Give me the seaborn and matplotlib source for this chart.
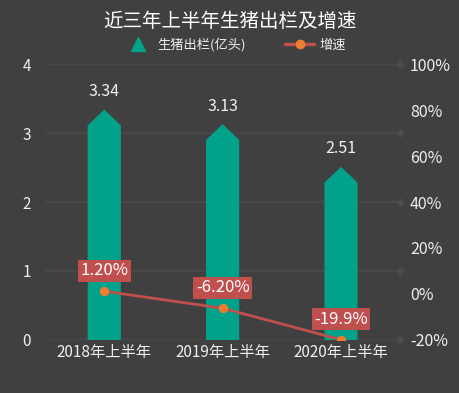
import matplotlib
matplotlib.use("Agg")
import matplotlib.pyplot as plt
import seaborn as sns
import pandas as pd
from matplotlib.patches import Polygon
from matplotlib.lines import Line2D

categories = ["2018年上半年", "2019年上半年", "2020年上半年"]
output = [3.34, 3.13, 2.51]
growth = [1.2, -6.2, -19.9]
growth_labels = ["1.20%", "-6.20%", "-19.9%"]
title = "近三年上半年生猪出栏及增速"
bar_name = "生猪出栏(亿头)"
line_name = "增速"

BG = "#404040"
TEAL = "#00a389"
RED = "#c0504d"
ORANGE = "#ed7d31"
TXT = "#f0f0f0"
GRID = "#4a4a4a"

sns.set_theme(style="dark")
plt.rcParams["font.family"] = ["Noto Sans CJK SC", "DejaVu Sans"]

fig = plt.figure(figsize=(4.6, 3.93), dpi=100, facecolor=BG)
ax = fig.add_axes([0.098, 0.135, 0.772, 0.702])
ax.set_facecolor(BG)

df = pd.DataFrame({"cat": categories, "val": output})
sns.barplot(data=df, x="cat", y="val", color=TEAL, width=0.28, ax=ax,
            saturation=1, zorder=3)

tri = 0.23
for p, v in zip(list(ax.patches), output):
    x0 = p.get_x(); w = p.get_width()
    p.remove()
    poly = Polygon([(x0, 0), (x0, v - tri), (x0 + w / 2, v), (x0 + w, v - tri), (x0 + w, 0)],
                   closed=True, facecolor=TEAL, edgecolor="none", zorder=3)
    ax.add_patch(poly)
    ax.text(x0 + w / 2, v + 0.26, f"{v:.2f}", ha="center", va="center",
            color=TXT, fontsize=11.5)

ax.set_ylim(0, 4)
ax.set_xlim(-0.5, 2.5)
ax.set_yticks([0, 1, 2, 3, 4])
ax.set_yticklabels(["0", "1", "2", "3", "4"])
ax.set_xlabel(""); ax.set_ylabel("")
ax.tick_params(axis="both", colors=TXT, labelsize=11, length=0)
ax.tick_params(axis="y", pad=10)
ax.tick_params(axis="x", pad=3)
for lab in ax.get_xticklabels():
    lab.set_color(TXT)
for s in ax.spines.values():
    s.set_visible(False)
ax.grid(False)
for yv in [0, 1, 2, 3, 4]:
    ax.axhline(yv, color=GRID, lw=1.2, zorder=1)
ax.scatter([2.5] * 5, [0, 1, 2, 3, 4], marker="D", s=14, color="#4c4c4c",
           zorder=2, clip_on=False)

ax2 = ax.twinx()
ax2.set_ylim(-20, 100)
ldf = pd.DataFrame({"x": [0, 1, 2], "g": growth})
sns.lineplot(data=ldf, x="x", y="g", ax=ax2, color=RED, lw=2, marker="o",
             markersize=6, markerfacecolor=ORANGE, markeredgecolor=ORANGE, zorder=5)
ax2.set_xlim(-0.5, 2.5)
ax2.set_yticks([-20, 0, 20, 40, 60, 80, 100])
ax2.set_yticklabels([f"{t}%" for t in [-20, 0, 20, 40, 60, 80, 100]])
ax2.tick_params(axis="y", colors=TXT, labelsize=11.5, length=0, pad=7)
ax2.set_xlabel(""); ax2.set_ylabel("")
ax2.grid(False)
for s in ax2.spines.values():
    s.set_visible(False)
for i, (g, lab) in enumerate(zip(growth, growth_labels)):
    ax2.text(i, g + 9.0, lab, ha="center", va="center", color="white", fontsize=12,
             bbox=dict(boxstyle="square,pad=0.15", fc=RED, ec="none"), zorder=6)

fig.text(0.5, 0.945, title, ha="center", va="center", color="white", fontsize=14)
handles = [
    Line2D([], [], marker="^", color="none", markerfacecolor=TEAL, markeredgecolor=TEAL,
           markersize=10, label=bar_name),
    Line2D([], [], color=RED, lw=2.5, marker="o", markerfacecolor=ORANGE,
           markeredgecolor=ORANGE, markersize=6, label=line_name),
]
fig.legend(handles=handles, loc="center", bbox_to_anchor=(0.51, 0.886), ncol=2,
           frameon=False, fontsize=9.5, labelcolor=TXT, columnspacing=3.0,
           handlelength=2.2, handletextpad=0.4)

fig.savefig("out.png", dpi=100, facecolor=BG)
